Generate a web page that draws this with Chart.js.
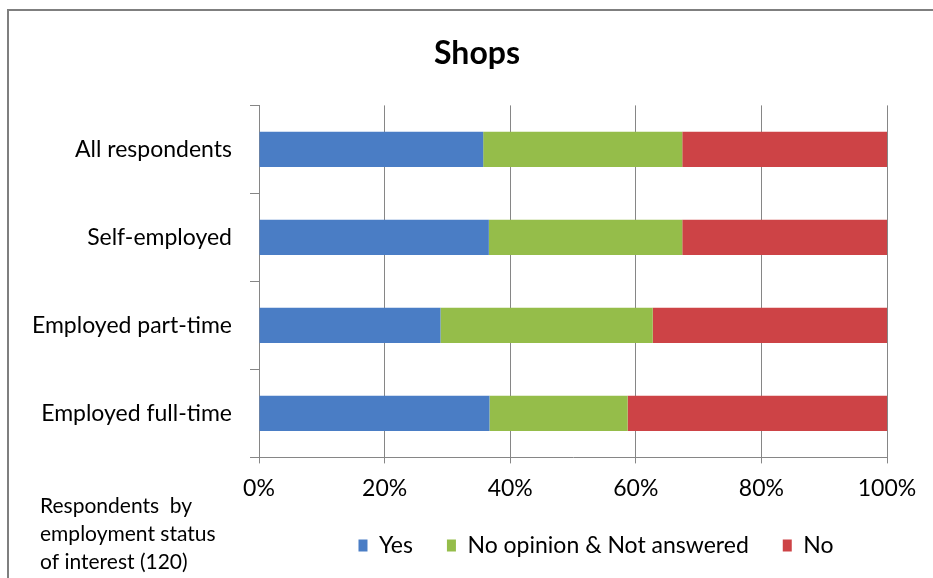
<!DOCTYPE html>
<html>
<head>
<meta charset="utf-8">
<script src="https://cdn.jsdelivr.net/npm/chart.js@4/dist/chart.umd.min.js"></script>
<style>
html,body{margin:0;padding:0;background:#fff;}
#wrap{width:933px;height:578px;position:relative;}
</style>
</head>
<body>
<div id="wrap"><canvas id="c" width="933" height="578"></canvas></div>
<script>
const categories = ['All respondents', 'Self-employed', 'Employed part-time', 'Employed full-time'];
const yesValues = [35.7, 36.6, 28.9, 36.7];
const noOpinionValues = [31.7, 30.8, 33.8, 22.0];
const noValues = [32.6, 32.6, 37.3, 41.3];
const seriesNames = ['Yes', 'No opinion & Not answered', 'No'];
const xTicks = [0, 20, 40, 60, 80, 100];
const chartTitle = 'Shops';
const axisNote = ['Respondents  by', 'employment status', 'of interest (120)'];

const FONT = 'Lato, "Open Sans", sans-serif';

const framePlugin = {
  id: 'frame',
  beforeDraw(chart) {
    const ctx = chart.ctx;
    ctx.save();
    ctx.fillStyle = '#fff';
    ctx.fillRect(0, 0, chart.width, chart.height);
    ctx.strokeStyle = '#7f7f7f';
    ctx.lineWidth = 2;
    ctx.strokeRect(8, 10, chart.width + 20, chart.height + 20);
    ctx.restore();
  },
  afterLayout(chart) {
    const lg = chart.legend;
    if (lg) { lg.left += 46; lg.top -= 13; lg.bottom -= 13; }
    const tb = chart.titleBlock;
    if (tb) { tb.left += 47; }
  },
  afterDraw(chart) {
    const ctx = chart.ctx;
    ctx.save();
    ctx.fillStyle = '#000';
    ctx.font = '21px ' + FONT;
    ctx.textBaseline = 'middle';
    ctx.textAlign = 'left';
    const x = 40;
    const y0 = chart.chartArea.bottom + 49;
    axisNote.forEach((t, i) => ctx.fillText(t, x, y0 + i * 28));
    ctx.restore();
  }
};

new Chart(document.getElementById('c'), {
  type: 'bar',
  data: {
    labels: categories,
    datasets: [
      { label: seriesNames[0], data: yesValues, backgroundColor: '#4a7dc5' },
      { label: seriesNames[1], data: noOpinionValues, backgroundColor: '#95bd4a' },
      { label: seriesNames[2], data: noValues, backgroundColor: '#cd4346' }
    ]
  },
  options: {
    indexAxis: 'y',
    responsive: false,
    animation: false,
    devicePixelRatio: 1,
    layout: { padding: { left: 20, right: 46, top: 10, bottom: -2 } },
    datasets: { bar: { barPercentage: 0.4, categoryPercentage: 1.0 } },
    plugins: {
      title: {
        display: true,
        text: chartTitle,
        color: '#000',
        font: { family: FONT, size: 32, weight: 'bold' },
        padding: { top: 24, bottom: 33 }
      },
      legend: {
        position: 'bottom',
        fullSize: false,
        labels: {
          color: '#000',
          font: { family: FONT, size: 23 },
          boxWidth: 9,
          boxHeight: 12,
          padding: 34
        }
      },
      tooltip: { enabled: false }
    },
    scales: {
      x: {
        stacked: true,
        min: 0,
        max: 100,
        afterBuildTicks(scale) { scale.ticks = xTicks.map(v => ({ value: v })); },
        ticks: {
          color: '#000',
          font: { family: FONT, size: 23 },
          padding: 11,
          callback: v => v + '%'
        },
        grid: { color: '#868686', lineWidth: 1, tickLength: 6, drawTicks: true },
        border: { color: '#868686', width: 1 }
      },
      y: {
        stacked: true,
        afterFit(scale) { scale.width = 239; },
        ticks: {
          color: '#000',
          font: { family: FONT, size: 23 },
          padding: 18
        },
        grid: { drawOnChartArea: false, color: '#868686', tickLength: 9, offset: true },
        border: { color: '#868686', width: 1 }
      }
    }
  },
  plugins: [framePlugin]
});
</script>
</body>
</html>
